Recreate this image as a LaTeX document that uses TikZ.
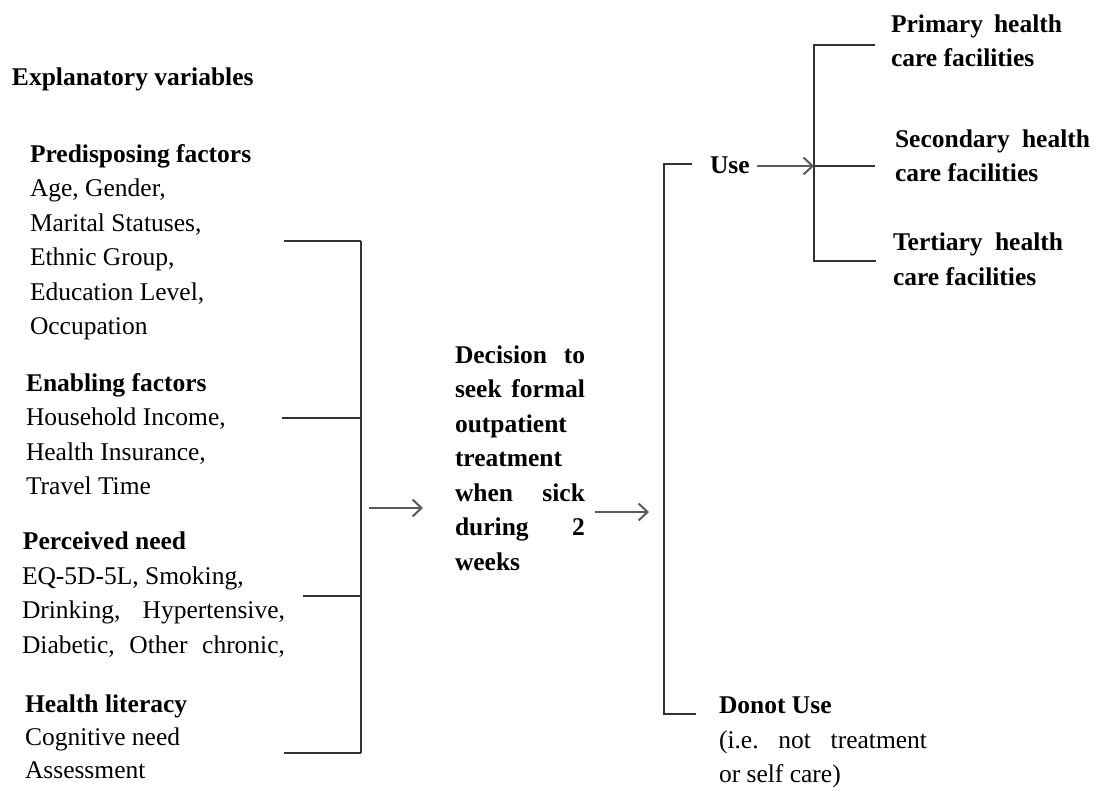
\documentclass[tikz,border=0pt]{standalone}
\usepackage{fontspec}
\setmainfont{Liberation Serif}
\usetikzlibrary{arrows.meta}
\definecolor{wirec}{HTML}{333333}
\definecolor{arrc}{HTML}{5A5A5A}
\tikzset{
  txt/.style={anchor=base west, inner sep=0pt, outer sep=0pt,
              font=\fontsize{25.5}{34.5}\selectfont},
  hd/.style={txt, font=\fontsize{25.5}{34.5}\selectfont\bfseries},
  wire/.style={draw=wirec, line width=1.8pt},
  flow/.style={draw=arrc, line width=2pt,
               -{Straight Barb[length=9pt,width=17pt,line width=2pt]}},
}
\newcommand\spread[2]{\hbox to #1pt{#2}}
\begin{document}
\begin{tikzpicture}[x=1pt,y=-1pt]
\useasboundingbox (0,0) rectangle (1100,787);

% explanatory variables
\node[hd] (expl) at (12,85) {Explanatory variables};

\node[hd]  (pre)  at (30,162)   {Predisposing factors};
\node[txt] (pre1) at (30,196.5) {Age, Gender,};
\node[txt] (pre2) at (30,231)   {Marital Statuses,};
\node[txt] (pre3) at (30,265.5) {Ethnic Group,};
\node[txt] (pre4) at (30,300)   {Education Level,};
\node[txt] (pre5) at (30,334.5) {Occupation};

\node[hd]  (ena)  at (26,391)   {Enabling factors};
\node[txt] (ena1) at (26,425.5) {Household Income,};
\node[txt] (ena2) at (26,460)   {Health Insurance,};
\node[txt] (ena3) at (26,494.5) {Travel Time};

\node[hd]  (need)  at (23,549) {Perceived need};
\node[txt] (need1) at (22,584) {EQ-5D-5L, Smoking,};
\node[txt] (need2) at (22,618) {\spread{263}{Drinking,\hfill Hypertensive,}};
\node[txt] (need3) at (22,653) {\spread{263}{Diabetic,\hfill Other\hfill chronic,}};

\node[hd]  (lit)  at (25,712) {Health literacy};
\node[txt] (lit1) at (25,745) {Cognitive need};
\node[txt] (lit2) at (25,778) {Assessment};

% decision
\node[hd] (dec1) at (455,363)   {\spread{130}{Decision\hfill to}};
\node[hd] (dec2) at (455,397.5) {\spread{130}{seek\hfill formal}};
\node[hd] (dec3) at (455,432)   {outpatient};
\node[hd] (dec4) at (455,466.5) {treatment};
\node[hd] (dec5) at (455,501)   {\spread{130}{when\hfill sick}};
\node[hd] (dec6) at (455,535.5) {\spread{130}{during\hfill 2}};
\node[hd] (dec7) at (455,570)   {weeks};

% outcomes
\node[hd] (use) at (710,173) {Use};
\node[hd] (prim1) at (891,32)  {\spread{171}{Primary\hfill health}};
\node[hd] (prim2) at (891,66)  {care facilities};
\node[hd] (sec1)  at (895,147) {\spread{195}{Secondary\hfill health}};
\node[hd] (sec2)  at (895,181) {care facilities};
\node[hd] (ter1)  at (893,250) {\spread{170}{Tertiary\hfill health}};
\node[hd] (ter2)  at (893,285) {care facilities};

\node[hd]  (nouse)  at (719,713) {Donot Use};
\node[txt] (nouse1) at (719,748) {\spread{208}{(i.e.\hfill not\hfill treatment}};
\node[txt] (nouse2) at (719,782) {or self care)};

% left bracket joining the four groups
\coordinate (lb1) at (361,241);
\coordinate (lb2) at (361,418);
\coordinate (lb3) at (361,596);
\coordinate (lb4) at (361,753);
\coordinate (la1) at (284,241);
\coordinate (la2) at (282,418);
\coordinate (la3) at (303,596);
\coordinate (la4) at (284,753);
\draw[wire] (lb1) -- (lb4);
\draw[wire] (la1) -- (lb1);
\draw[wire] (la2) -- (lb2);
\draw[wire] (la3) -- (lb3);
\draw[wire] (la4) -- (lb4);

% flow arrows
\coordinate (f1a) at (369,508);
\coordinate (f1b) at (423,508);
\coordinate (f2a) at (595,512);
\coordinate (f2b) at (649,512);
\draw[flow] (f1a) -- (f1b);
\draw[flow] (f2a) -- (f2b);

% use / do not use bracket
\coordinate (rb1) at (664,164);
\coordinate (rb2) at (664,714);
\coordinate (ra1) at (692,164);
\coordinate (ra2) at (696,714);
\draw[wire] (ra1) -- (rb1) -- (rb2) -- (ra2);

% facility bracket
\coordinate (fb1) at (814,45);
\coordinate (fb2) at (814,166);
\coordinate (fb3) at (814,261);
\coordinate (fa1) at (875,45);
\coordinate (fa2) at (875,166);
\coordinate (fa3) at (876,261);
\draw[wire] (fa1) -- (fb1) -- (fb3) -- (fa3);
\draw[wire] (fb2) -- (fa2);

\coordinate (ua) at (757,166);
\draw[flow] (ua) -- (fb2);
\end{tikzpicture}
\end{document}
